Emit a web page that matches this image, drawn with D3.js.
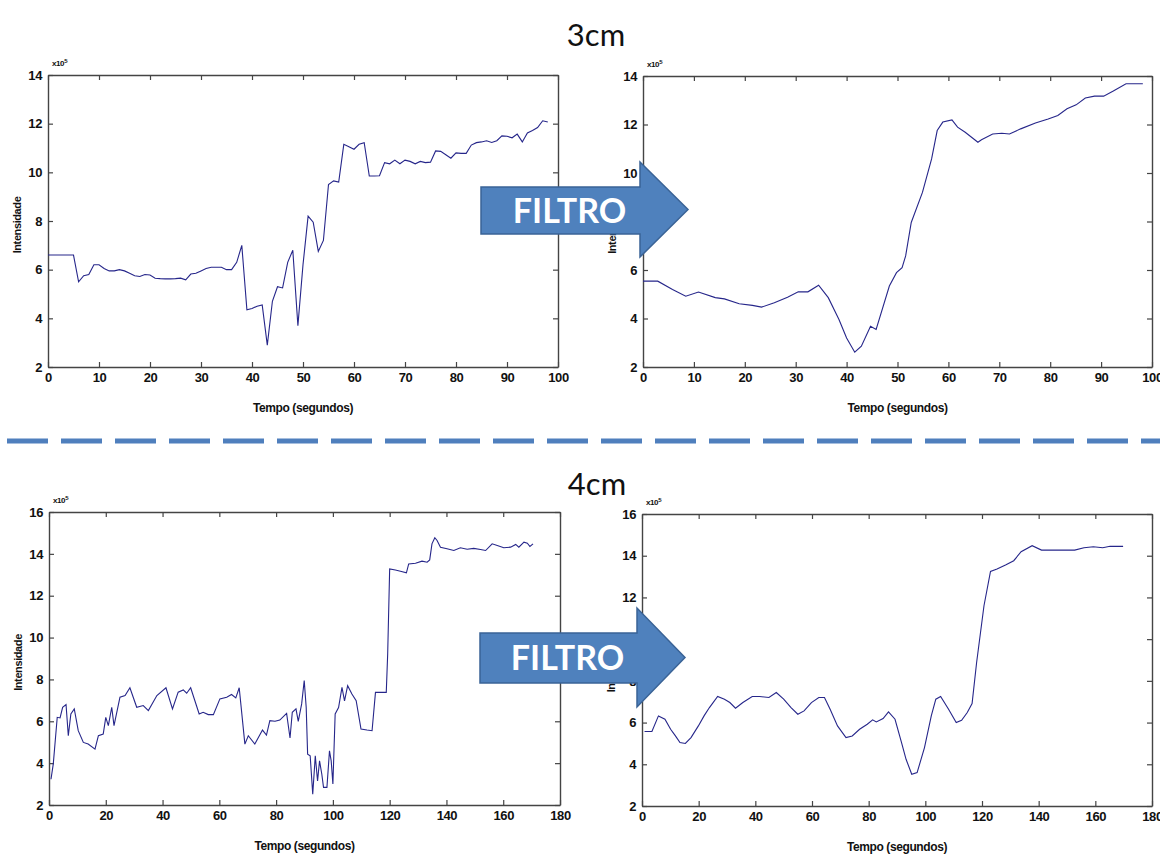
<!DOCTYPE html>
<html>
<head>
  <meta charset="UTF-8">
  <style>
    body { margin: 0; background: #fff; }
    svg { display: block; }
    .tick text, .lab { font-family: "Liberation Sans", Arial, sans-serif; font-weight: bold; fill: #111; letter-spacing: -0.4px; }
    .domain { stroke: #444; stroke-width: 1.4; }
    .tick line { stroke: #444; stroke-width: 1.2; }
  </style>
</head>
<body>
<svg></svg>
<script src="https://d3js.org/d3.v7.min.js"></script>
<script>
let width = 1160, height = 859;

// 3cm - sinal original
var t3Raw = [0,5,6,7,8,9,10,11,12,13,14,15,16,17,18,19,20,21,22,23,24,25,26,27,28,29,30,31,32,33,34,35,36,37,38,39,40,41,42,43,44,45,46,47,48,49,50,51,52,53,54,55,56,57,58,59,60,61,62,63,64,65,66,67,68,69,70,71,72,73,74,75,76,77,78,79,80,81,82,83,84,85,86,87,88,89,90,91,92,93,94,95,96,97,98];
var i3Raw = [6.6,6.6,5.5,5.75,5.8,6.2,6.2,6.05,5.95,5.95,6.0,5.95,5.85,5.75,5.72,5.8,5.78,5.65,5.63,5.62,5.62,5.63,5.65,5.58,5.82,5.85,5.95,6.05,6.1,6.1,6.1,6.0,6.0,6.3,7.0,4.35,4.4,4.5,4.55,2.9,4.7,5.3,5.25,6.3,6.8,3.7,6.2,8.2,7.95,6.75,7.2,9.5,9.65,9.6,11.15,11.05,10.95,11.15,11.22,9.85,9.85,9.86,10.4,10.35,10.5,10.35,10.5,10.45,10.35,10.45,10.4,10.42,10.88,10.86,10.72,10.58,10.8,10.78,10.78,11.12,11.22,11.25,11.3,11.23,11.3,11.5,11.48,11.42,11.57,11.25,11.62,11.72,11.84,12.12,12.07];

// 3cm - filtrado
var t3Filt = [0,2.9,5.8,8.4,10.9,14.2,16,18.9,21.5,23.3,25.8,28.4,30.5,32.4,34.5,36.4,38.5,40,41.6,42.9,44.7,45.8,48.4,49.8,50.9,51.6,52.7,54.9,56.7,57.8,58.9,60.7,61.8,63.3,65.8,66.5,68.7,70.5,72,74.2,77.1,79.6,81.5,83.3,85.1,86.9,88.7,90.5,92.4,94.9,98.2];
var i3Filt = [5.54,5.54,5.2,4.92,5.09,4.86,4.81,4.61,4.54,4.47,4.65,4.88,5.1,5.1,5.37,4.86,3.96,3.2,2.61,2.86,3.68,3.55,5.34,5.89,6.1,6.58,7.96,9.2,10.58,11.75,12.1,12.19,11.89,11.68,11.27,11.37,11.61,11.64,11.61,11.82,12.06,12.23,12.37,12.65,12.81,13.09,13.17,13.17,13.38,13.68,13.68];

// 4cm - sinal original
var t4Raw = [0.7,1.5,2.9,3.9,4.8,6.0,6.8,7.7,8.9,10.3,12.1,13.8,16.2,17.4,19.1,20,20.9,22.1,22.9,25,26.8,28.5,30.9,33.2,35,38,41.2,43.5,45.5,47.3,48.5,49.9,52.9,54.3,56.1,57.9,60.2,62.6,64.3,65.8,67,69,70.2,72.5,75.2,76.6,77.8,79.6,81.3,83.7,84.9,85.7,87,87.8,89,89.9,90.6,91.1,92,92.9,93.8,94.6,95.3,96.1,96.7,97.9,98.8,99.4,100,100.8,102,103.2,104.1,105.2,106.7,108.2,109.9,112,113.8,115,116.7,118.8,119.3,120,122,123.8,125.9,126.7,129.1,131.4,133.2,134.1,134.9,135.9,136.7,137.9,140.2,142.6,144.9,147.3,149.6,152,153.8,156.1,157.9,160.2,162.6,164.4,165.5,167.3,168.5,169.4,170.5];
var i4Raw = [3.23,3.95,6.19,6.16,6.67,6.8,5.31,6.35,6.59,5.55,4.99,4.91,4.67,5.31,5.39,6.19,5.79,6.67,5.79,7.15,7.23,7.6,6.67,6.75,6.51,7.23,7.6,6.59,7.39,7.5,7.34,7.6,6.35,6.43,6.32,6.32,7.07,7.15,7.28,7.12,7.6,4.91,5.31,4.91,5.58,5.34,6.03,6.0,6.06,6.38,5.2,6.43,6.59,6.0,6.83,7.95,6.66,4.43,4.35,2.52,4.35,3.15,4.11,3.47,2.84,2.84,4.59,4.11,3.0,6.35,6.66,7.62,6.98,7.7,7.3,6.98,5.63,5.58,5.55,7.38,7.38,7.38,9.22,13.28,13.23,13.17,13.09,13.52,13.55,13.65,13.6,13.71,14.48,14.77,14.64,14.32,14.24,14.16,14.29,14.22,14.26,14.21,14.16,14.48,14.4,14.29,14.32,14.45,14.32,14.56,14.51,14.35,14.48];

// 4cm - filtrado
var t4Filt = [0.9,3.5,5.8,8.1,10.1,11.8,13.4,15.3,17.3,19.9,21.9,23.8,26.7,29.1,31,33,35.6,38.9,41.5,44.8,47.4,50,52.6,55,57.2,59.8,62.4,64.4,66.4,69,72,74.2,76.8,79.5,81.4,82.7,85.1,87,89.3,91.6,93.2,95.2,97.1,99.7,102.1,103.7,105.4,108.2,110.9,112.8,114.8,116.5,118.1,120.7,123,125.3,128.3,131.2,133.8,137.7,141,146.2,152.7,156,159.3,162.6,165.2,169.8];
var i4Filt = [5.57,5.57,6.32,6.16,5.68,5.36,5.04,5.0,5.28,5.84,6.32,6.72,7.25,7.12,6.96,6.69,6.96,7.25,7.25,7.2,7.44,7.12,6.72,6.4,6.56,6.96,7.2,7.2,6.64,5.84,5.28,5.36,5.68,5.92,6.13,6.03,6.19,6.51,6.16,5.04,4.24,3.52,3.6,4.8,6.32,7.12,7.25,6.64,6.0,6.11,6.48,6.91,8.88,11.6,13.25,13.36,13.55,13.76,14.19,14.48,14.27,14.27,14.27,14.38,14.43,14.38,14.45,14.45];

var xTicks3 = [0,10,20,30,40,50,60,70,80,90,100];
var yTicks3 = [2,4,6,8,10,12,14];
var xTicks4 = [0,20,40,60,80,100,120,140,160,180];
var yTicks4 = [2,4,6,8,10,12,14,16];

let svg = d3.select("svg")
    .attr("width", width)
    .attr("height", height);

function drawPanel(box, xDom, yDom, xT, yT, tData, iData) {
    var x = d3.scaleLinear().domain(xDom).range([box.l, box.r]);
    var y = d3.scaleLinear().domain(yDom).range([box.b, box.t]);
    var g = svg.append("g");

    g.append("g").attr("transform", "translate(0," + box.b + ")")
        .call(d3.axisBottom(x).tickValues(xT).tickSizeInner(-5).tickSizeOuter(0).tickPadding(6))
        .selectAll("text").style("font-size", "13px");
    g.append("g").attr("transform", "translate(0," + box.t + ")")
        .call(d3.axisTop(x).tickValues(xT).tickSizeInner(-5).tickSizeOuter(0).tickFormat(""));
    g.append("g").attr("transform", "translate(" + box.l + ",0)")
        .call(d3.axisLeft(y).tickValues(yT).tickSizeInner(-5).tickSizeOuter(0).tickPadding(6))
        .selectAll("text").style("font-size", "13px");
    g.append("g").attr("transform", "translate(" + box.r + ",0)")
        .call(d3.axisRight(y).tickValues(yT).tickSizeInner(-5).tickSizeOuter(0).tickFormat(""));

    var pts = tData.map((t, k) => [t, iData[k]]);
    g.append("path")
        .datum(pts)
        .attr("fill", "none")
        .attr("stroke", "#26268a")
        .attr("stroke-width", 1.1)
        .attr("d", d3.line().x(d => x(d[0])).y(d => y(d[1])));

    // x10^5
    var e = g.append("text").attr("class", "lab")
        .attr("x", box.l + 4).attr("y", box.t - 9)
        .style("font-size", "8px");
    e.append("tspan").text("x10");
    e.append("tspan").attr("dy", -3).style("font-size", "6px").text("5");

    g.append("text").attr("class", "lab")
        .attr("x", (box.l + box.r) / 2).attr("y", box.b + 45)
        .attr("text-anchor", "middle")
        .style("font-size", "12px")
        .text("Tempo (segundos)");

    g.append("text").attr("class", "lab")
        .attr("transform", "translate(" + (box.l - 27) + "," + ((box.t + box.b) / 2 + 4) + ") rotate(-90)")
        .attr("text-anchor", "middle")
        .style("font-size", "11px")
        .text("Intensidade");
}

drawPanel({l: 48, r: 558, t: 75, b: 367}, [0, 100], [2, 14], xTicks3, yTicks3, t3Raw, i3Raw);
drawPanel({l: 643, r: 1152, t: 76, b: 367}, [0, 100], [2, 14], xTicks3, yTicks3, t3Filt, i3Filt);
drawPanel({l: 49, r: 560, t: 512, b: 805}, [0, 180], [2, 16], xTicks4, yTicks4, t4Raw, i4Raw);
drawPanel({l: 642, r: 1152, t: 514, b: 806}, [0, 180], [2, 16], xTicks4, yTicks4, t4Filt, i4Filt);

// titulos
svg.append("text").attr("x", 596).attr("y", 46).attr("text-anchor", "middle")
    .style("font-family", "Lato, sans-serif").style("font-size", "31px").style("fill", "#111")
    .text("3cm");
svg.append("text").attr("x", 597).attr("y", 495).attr("text-anchor", "middle")
    .style("font-family", "Lato, sans-serif").style("font-size", "31px").style("fill", "#111")
    .text("4cm");

// linha tracejada
svg.append("line")
    .attr("x1", 7).attr("x2", width).attr("y1", 441).attr("y2", 441)
    .attr("stroke", "#4f7fbd").attr("stroke-width", 5)
    .attr("stroke-dasharray", "41,13");

// setas FILTRO
function arrow(x0, xh, xt, bt, bb, ht, hb) {
    var cy = (bt + bb) / 2;
    var pts = [[x0, bt], [xh, bt], [xh, ht], [xt, (ht + hb) / 2], [xh, hb], [xh, bb], [x0, bb]];
    svg.append("path")
        .attr("d", d3.line()(pts) + "Z")
        .attr("fill", "#4f81bd")
        .attr("stroke", "#3a6396")
        .attr("stroke-width", 1.5);
    svg.append("text")
        .attr("x", (x0 + xh) / 2 + 9).attr("y", cy + 12)
        .attr("text-anchor", "middle")
        .style("font-family", "Lato, sans-serif").style("font-weight", "bold")
        .style("font-size", "34px").style("fill", "#fff")
        .text("FILTRO");
}
arrow(481, 640, 688, 187, 234, 162, 257);
arrow(480, 637, 685, 633, 683, 608, 707);
</script>
</body>
</html>
